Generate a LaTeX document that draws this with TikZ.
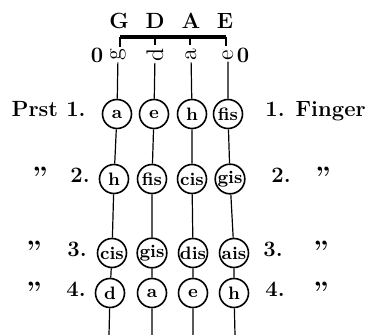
\documentclass[tikz,border=0pt]{standalone}
\usetikzlibrary{calc}

\begin{document}
\begin{tikzpicture}[
        x=0.5pt, y=-0.5pt,
        every node/.style={font=\fontsize{11}{13}\bfseries\selectfont, inner sep=1pt},
        ton/.style={draw,circle,minimum size=14.5pt,inner sep=0pt,line width=0.8pt,
            font=\fontsize{9}{10}\bfseries\selectfont},
        leer/.style={rotate=90,inner sep=0.5pt,font=\fontsize{12}{14}\selectfont},
        dito/.style={anchor=base,font=\fontsize{14}{16}\bfseries\selectfont},
        saite/.style={line width=0.6pt}
    ]
        \useasboundingbox (0,0) rectangle (368,335);
        % Saitennamen
        \node (kg) at (119,21) {G};
        \node (kd) at (155,21) {D};
        \node (ka) at (191,21) {A};
        \node (ke) at (225,21) {E};
        \draw[line width=1.6pt] (120,37) -- (226,37);
        \draw[line width=0.8pt] (120,37) -- (120,47);
        \draw[line width=0.8pt] (155,37) -- (155,45);
        \draw[line width=0.8pt] (190,37) -- (190,45);
        \draw[line width=0.8pt] (226,37) -- (226,46);
        % leere Saiten
        \node (n0l) at (97,55) {0};
        \node[leer] (g0) at (118,55) {g};
        \node[leer] (d0) at (155,55) {d};
        \node[leer] (a0) at (191,55) {a};
        \node[leer] (e0) at (228,55) {e};
        \node (n0r) at (243,55) {0};
        % 1. Finger
        \node[ton] (g1) at (117,114) {a};
        \node[ton] (d1) at (154,114) {e};
        \node[ton] (a1) at (192,114) {h};
        \node[ton] (e1) at (228,114) {f{}is};
        \node[anchor=base east] (l1) at (88,117) {Prst 1.};
        \node[anchor=base west] (r1) at (263,117) {1. F{}inger};
        % 2. Finger
        \node[ton] (g2) at (114,179) {h};
        \node[ton] (d2) at (152,179) {f{}is};
        \node[ton] (a2) at (192,179) {cis};
        \node[ton] (e2) at (230,179) {gis};
        \node[dito] (q2l) at (40,187) {''};
        \node[anchor=base] (l2) at (80,183) {2.};
        \node[anchor=base] (r2) at (281,183) {2.};
        \node[dito] (q2r) at (323,187) {''};
        % 3. Finger
        \node[ton] (g3) at (112,253) {cis};
        \node[ton] (d3) at (152,253) {gis};
        \node[ton] (a3) at (193,253) {dis};
        \node[ton] (e3) at (234,253) {ais};
        \node[dito] (q3l) at (34,261) {''};
        \node[anchor=base] (l3) at (77,257) {3.};
        \node[anchor=base] (r3) at (273,257) {3.};
        \node[dito] (q3r) at (321,261) {''};
        % 4. Finger
        \node[ton] (g4) at (110,293) {d};
        \node[ton] (d4) at (152,293) {a};
        \node[ton] (a4) at (193,293) {e};
        \node[ton] (e4) at (234,293) {h};
        \node[dito] (q4l) at (34,301) {''};
        \node[anchor=base] (l4) at (76,297) {4.};
        \node[anchor=base] (r4) at (275,297) {4.};
        \node[dito] (q4r) at (321,301) {''};
        \coordinate (g5) at (109,335);
        \coordinate (d5) at (152,335);
        \coordinate (a5) at (193,335);
        \coordinate (e5) at (235,335);
        % Saiten
        \draw[saite] (g0) -- (g1) -- (g2) -- (g3) -- (g4) -- (g5);
        \draw[saite] (d0) -- (d1) -- (d2) -- (d3) -- (d4) -- (d5);
        \draw[saite] (a0) -- (a1) -- (a2) -- (a3) -- (a4) -- (a5);
        \draw[saite] (e0) -- (e1) -- (e2) -- (e3) -- (e4) -- (e5);
    \end{tikzpicture}
\end{document}
